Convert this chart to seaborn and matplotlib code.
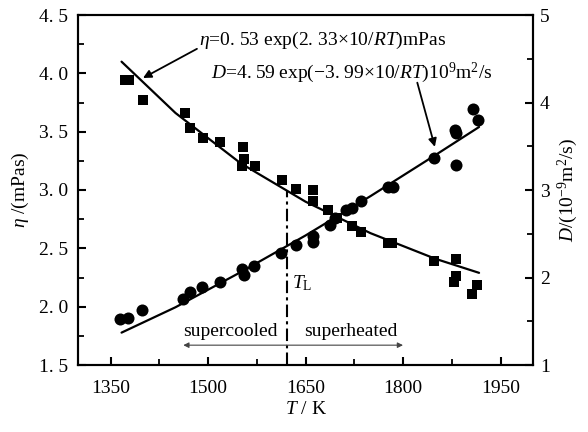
import numpy as np
import pandas as pd
import matplotlib
matplotlib.use("Agg")
import matplotlib.pyplot as plt
import seaborn as sns
from matplotlib.ticker import MultipleLocator, FixedLocator

# ---------------- data ----------------
# viscosity (left axis), squares
eta_T = [1372, 1378, 1400, 1465, 1473, 1492, 1519, 1554, 1555, 1553, 1572,
         1614, 1636, 1662, 1662, 1685, 1698, 1721, 1736, 1777, 1783,
         1847, 1882, 1882, 1878, 1906, 1914]
eta_v = [3.94, 3.94, 3.77, 3.66, 3.53, 3.45, 3.41, 3.37, 3.27, 3.21, 3.21,
         3.09, 3.01, 3.00, 2.91, 2.83, 2.76, 2.69, 2.64, 2.55, 2.55,
         2.39, 2.41, 2.26, 2.21, 2.11, 2.19]
# diffusion coefficient (right axis), circles
D_T = [1365, 1377, 1399, 1462, 1472, 1490, 1518, 1552, 1555, 1571,
       1613, 1636, 1662, 1662, 1688, 1695, 1713, 1721, 1736, 1777, 1785,
       1847, 1880, 1882, 1882, 1907, 1916]
D_v = [1.53, 1.54, 1.63, 1.75, 1.84, 1.89, 1.95, 2.10, 2.03, 2.13,
       2.28, 2.37, 2.47, 2.41, 2.60, 2.68, 2.77, 2.79, 2.87, 3.03, 3.03,
       3.37, 3.69, 3.65, 3.29, 3.93, 3.80]
# fitted curves
fit_T = [1367, 1450, 1550, 1650, 1750, 1850, 1917]
eta_fit = [4.10, 3.66, 3.23, 2.90, 2.63, 2.41, 2.29]
D_fit = [1.37, 1.66, 2.06, 2.48, 2.93, 3.40, 3.72]

x_ticks = [1350, 1500, 1650, 1800, 1950]
y_ticks = [1.5, 2.0, 2.5, 3.0, 3.5, 4.0, 4.5]
y_tick_labels = ["1. 5", "2. 0", "2. 5", "3. 0", "3. 5", "4. 0", "4. 5"]
y2_ticks = [1, 2, 3, 4, 5]
y2_tick_labels = ["1", "2", "3", "4", "5"]
T_L = 1621

eta_text = r"$\eta$=0. 53 exp(2. 33×10/$RT$)mPas"
D_text = r"$D$=4. 59 exp(−3. 99×10/$RT$)10$^9$m$^2$/s"

# ---------------- style ----------------
sns.set_style("white")
plt.rcParams["font.family"] = ["Liberation Serif", "DejaVu Serif"]
plt.rcParams["mathtext.fontset"] = "custom"
plt.rcParams["mathtext.rm"] = "Liberation Serif"
plt.rcParams["mathtext.it"] = "Liberation Serif:italic"
plt.rcParams["mathtext.bf"] = "Liberation Serif:bold"
plt.rcParams["font.size"] = 14
for k in ("text.color", "axes.labelcolor", "xtick.color", "ytick.color"):
    plt.rcParams[k] = "black"
FS = 14

fig = plt.figure(figsize=(5.88, 4.32), dpi=100)
ax = fig.add_axes([78 / 588, 1 - 365 / 432, (533 - 78) / 588, (365 - 15) / 432])
ax2 = ax.twinx()

eta_df = pd.DataFrame({"T": eta_T, "v": eta_v})
D_df = pd.DataFrame({"T": D_T, "v": D_v})
fit_df = pd.DataFrame({"T": fit_T, "eta": eta_fit, "D": D_fit})

sns.scatterplot(data=eta_df, x="T", y="v", ax=ax, marker="s", s=52,
                color="black", edgecolor="black", linewidth=0, zorder=3)
sns.lineplot(data=fit_df, x="T", y="eta", ax=ax, color="black", lw=1.6)
sns.scatterplot(data=D_df, x="T", y="v", ax=ax2, marker="o", s=75,
                color="black", edgecolor="black", linewidth=0, zorder=3)
sns.lineplot(data=fit_df, x="T", y="D", ax=ax2, color="black", lw=1.6)

ax.set_xlim(1300, 2000)
ax.set_ylim(1.5, 4.5)
ax2.set_ylim(1, 5)

# vertical liquidus line
ax.plot([T_L, T_L], [1.5, 3.0], color="black", lw=1.5, ls=(0, (6, 2, 1.5, 2)))
ax.text(T_L + 9, 2.20, r"$T_\mathrm{L}$", fontsize=FS, ha="left", va="center")

# supercooled / superheated
ax.text(1534, 1.79, "supercooled", ha="center", va="center", fontsize=FS)
ax.text(1720, 1.79, "superheated", ha="center", va="center", fontsize=FS)
ax.annotate("", xy=(1462, 1.67), xytext=(T_L, 1.67),
            arrowprops=dict(arrowstyle="-|>", color="#444444", lw=0.8,
                            mutation_scale=8, shrinkA=0, shrinkB=0))
ax.annotate("", xy=(1800, 1.67), xytext=(T_L, 1.67),
            arrowprops=dict(arrowstyle="-|>", color="#444444", lw=0.8,
                            mutation_scale=8, shrinkA=0, shrinkB=0))

# equations with arrows
ax.text(1486, 4.28, eta_text, ha="left", va="center", fontsize=FS)
ax.annotate("", xy=(1400, 3.96), xytext=(1483, 4.21),
            arrowprops=dict(arrowstyle="-|>", color="black", lw=1.3,
                            mutation_scale=12, shrinkA=0, shrinkB=0))
ax.text(1504, 4.00, D_text, ha="left", va="center", fontsize=FS)
ax.annotate("", xy=(1849, 3.37), xytext=(1822, 3.92),
            arrowprops=dict(arrowstyle="-|>", color="black", lw=1.3,
                            mutation_scale=12, shrinkA=0, shrinkB=0))

# ticks
ax.xaxis.set_major_locator(FixedLocator(x_ticks))
ax.xaxis.set_minor_locator(MultipleLocator(75))
ax.yaxis.set_major_locator(FixedLocator(y_ticks))
ax.set_yticklabels(y_tick_labels)
ax.yaxis.set_minor_locator(MultipleLocator(0.25))
ax2.yaxis.set_major_locator(FixedLocator(y2_ticks))
ax2.set_yticklabels(y2_tick_labels)
ax2.yaxis.set_minor_locator(MultipleLocator(0.5))

for a in (ax, ax2):
    a.tick_params(which="major", direction="in", length=6, width=1.5,
                  labelsize=FS, colors="black")
    a.tick_params(which="minor", direction="in", length=4, width=1.3,
                  colors="black")
ax.tick_params(axis="x", which="both", bottom=True, top=False, pad=11)
ax.tick_params(axis="y", which="both", left=True, right=False, pad=7)
ax2.tick_params(axis="y", which="both", left=False, right=True, pad=5)

for a in (ax, ax2):
    for sp in a.spines.values():
        sp.set_linewidth(1.5)
        sp.set_color("black")

ax.set_xlabel(r"$T$ / K", fontsize=FS, labelpad=3)
ax.set_ylabel(r"$\eta$ /(mPas)", fontsize=FS, labelpad=6)
ax2.set_ylabel(r"$D$/(10$^{-9}$m$^2$/s)", fontsize=FS, labelpad=4)

fig.savefig("out.png", dpi=100)
